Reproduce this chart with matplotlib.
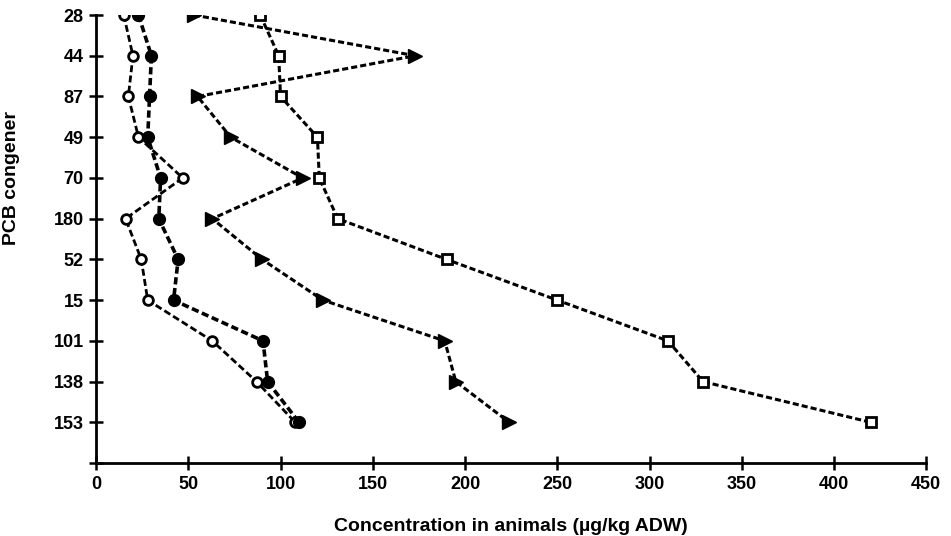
import matplotlib.pyplot as plt
import numpy as np

plt.rcParams['font.family'] = ['Liberation Sans', 'DejaVu Sans']
plt.rcParams['font.weight'] = 'bold'

congeners = ['28', '44', '87', '49', '70', '180', '52', '15', '101', '138', '153']

# concentration values (ug/kg ADW)
open_circles = [15, 20, 17.5, 23, 47, 16, 24.5, 28, 63, 87, 108]
filled_circles = [23, 30, 29, 28, 35, 34, 44.5, 42, 90.5, 93, 110]
triangles = [53, 173, 55, 73, 112, 63, 90, 123, 189, 195, 224]
squares = [89, 99, 100, 120, 121, 131, 190, 250, 310, 329, 420]

ypos = np.arange(len(congeners))

fig = plt.figure(figsize=(9.51, 5.36), dpi=100)
ax = fig.add_axes([0.101, 0.136, 0.873, 0.836])

ax.plot(open_circles, ypos, ls=(0, (2.5, 1.2)), lw=2.0, color='black',
        marker='o', ms=7, mfc='white', mec='black', mew=2)
ax.plot(filled_circles, ypos, ls=(0, (2, 1)), lw=2.6, color='black',
        marker='o', ms=8.5, mfc='black', mec='black')
ax.plot(triangles, ypos, ls=(0, (2, 1)), lw=2.2, color='black',
        marker='>', ms=10, mfc='black', mec='black')
ax.plot(squares, ypos, ls=(0, (2, 1)), lw=2.2, color='black',
        marker='s', ms=7, mfc='white', mec='black', mew=2)

ax.set_xlim(0, 450)
ax.set_ylim(len(congeners), 0)
ax.set_xticks(np.arange(0, 451, 50))
ax.set_yticks(np.arange(len(congeners) + 1))
ax.set_yticklabels(congeners + [''])

for s in ['top', 'right']:
    ax.spines[s].set_visible(False)
for s in ['left', 'bottom']:
    ax.spines[s].set_linewidth(2)

ax.tick_params(axis='both', direction='inout', length=10, width=1.8,
               labelsize=13, pad=4)

ax.set_xlabel('Concentration in animals (µg/kg ADW)', fontsize=14,
              fontweight='bold', labelpad=18)
ax.set_ylabel('PCB congener', fontsize=14, fontweight='bold')
ax.yaxis.set_label_coords(-0.092, 0.636)

plt.savefig('out.png', dpi=100)
